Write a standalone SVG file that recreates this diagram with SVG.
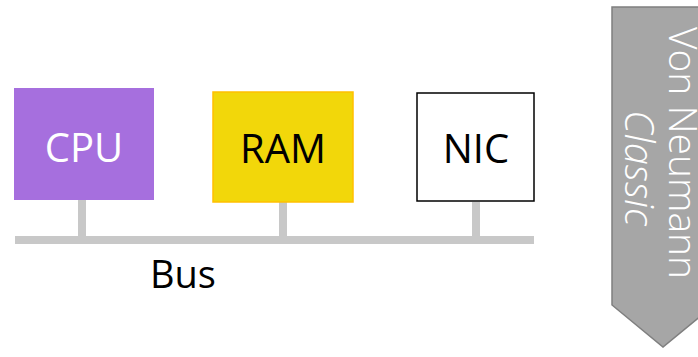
<svg xmlns="http://www.w3.org/2000/svg" width="698" height="357" viewBox="0 0 698 357">
<style>
text{font-family:"Open Sans","Liberation Sans",sans-serif;}
.lbl{font-size:40px;text-anchor:middle;}
.bus{fill:#C8C8C8;}
.ban{fill:#fff;font-weight:300;text-anchor:middle;}
</style>
<rect width="698" height="357" fill="#fff"/>
<g id="connectors">
<rect class="bus" x="15" y="236" width="519" height="8"/>
<rect class="bus" x="78" y="200" width="8" height="38"/>
<rect class="bus" x="279" y="202" width="8" height="36"/>
<rect class="bus" x="472" y="202" width="8" height="36"/>
</g>
<g id="cpu">
<rect x="14" y="88" width="140" height="112" fill="#A66FDE"/>
<text class="lbl" x="84" y="162" fill="#fff" font-size="41">CPU</text>
</g>
<g id="ram">
<rect x="213" y="92" width="140" height="110" fill="#F2D70A" stroke="#FFC000" stroke-width="1.5"/>
<text class="lbl" x="283" y="163" fill="#000">RAM</text>
</g>
<g id="nic">
<rect x="417" y="93" width="117" height="108" fill="#fff" stroke="#000" stroke-width="1.5"/>
<text class="lbl" x="476" y="163" fill="#000">NIC</text>
</g>
<g id="bus-label">
<text x="150" y="288" font-size="38" fill="#000">Bus</text>
</g>
<g id="banner">
<polygon points="612,7 714,7 714,305 663,347 612,305" fill="#A6A6A6" stroke="#7F7F7F" stroke-width="1.5"/>
<text class="ban" font-size="39" transform="translate(669,153) rotate(90)">Von Neumann</text>
<text class="ban" font-size="40" font-style="italic" transform="translate(625,168) rotate(90)">Classic</text>
</g>
</svg>
